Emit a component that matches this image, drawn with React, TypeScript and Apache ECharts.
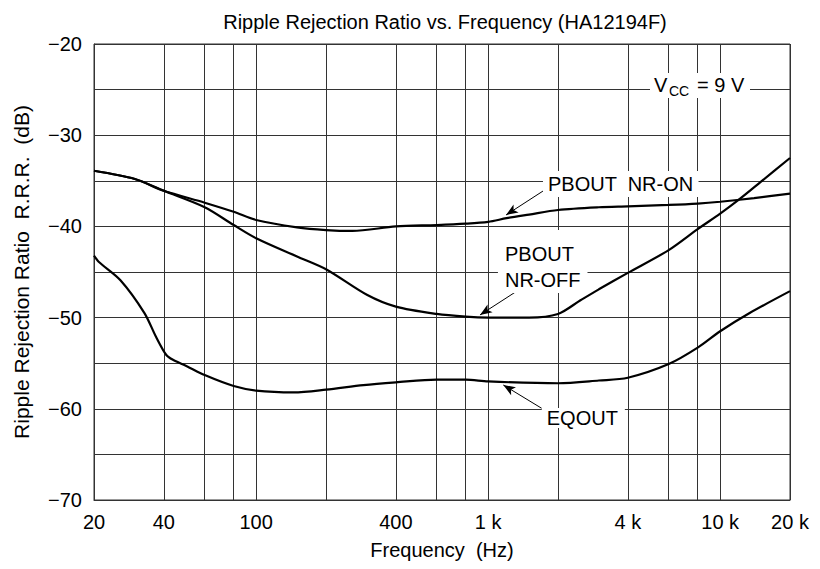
import { useEffect, useRef } from "react";
import * as echarts from "echarts";

// grid / tick positions (Hz and dB)
const gridFreqs = [20, 40, 60, 80, 100, 200, 400, 600, 800, 1000, 2000, 4000, 6000, 8000, 10000, 20000];
const labelFreqs = [20, 40, 100, 400, 1000, 4000, 10000, 20000];

// PBOUT NR-ON
const nrOnFreq = [20, 30, 40, 60, 80, 100, 150, 200, 260, 400, 600, 800, 1000, 1200, 1500, 2000, 3000, 4000, 6000, 8000, 10000, 14000, 20000];
const nrOnDb = [-33.9, -34.8, -36.1, -37.4, -38.4, -39.3, -40.1, -40.4, -40.5, -40.0, -39.85, -39.7, -39.5, -39.1, -38.7, -38.2, -37.9, -37.8, -37.65, -37.5, -37.3, -36.9, -36.4];

// PBOUT NR-OFF
const nrOffFreq = [20, 30, 40, 60, 80, 100, 150, 200, 300, 400, 600, 800, 1000, 1500, 2000, 2500, 3000, 4000, 6000, 8000, 10000, 12000, 15000, 20000];
const nrOffDb = [-33.9, -34.8, -36.1, -37.9, -39.85, -41.3, -43.3, -44.7, -47.5, -48.8, -49.6, -49.9, -50.0, -50.0, -49.6, -48.1, -46.9, -45.1, -42.6, -40.3, -38.6, -37.1, -35.1, -32.5];

// EQOUT
const eqFreq = [20, 21, 26, 33, 37, 41, 44, 50, 60, 80, 100, 145, 200, 290, 400, 600, 800, 1000, 2000, 3000, 4000, 6000, 8000, 10000, 13400, 20000];
const eqDb = [-43.2, -43.9, -45.9, -49.5, -52.1, -54.1, -54.65, -55.3, -56.3, -57.5, -58.0, -58.2, -57.9, -57.4, -57.1, -56.8, -56.8, -57.0, -57.2, -56.9, -56.6, -55.1, -53.3, -51.5, -49.5, -47.1];

// annotation anchors [Hz, dB]
const arrowNrOn = [[1729, -36.1], [1194, -38.75]];
const arrowNrOff = [[1305, -47.23], [922, -49.71]];
const arrowEq = [[1702, -59.95], [1162, -57.39]];
const boxNrOn = [1723, -35.35];
const boxNrOff = [1102, -40.39];
const boxEq = [1702, -59.91];
const boxVcc = [4984, -23.18];

const FONT = "'Liberation Sans', Arial, Helvetica, sans-serif";
const FS = 20;

function fmtFreq(v: number) {
  if (v >= 1000) return v / 1000 + " k";
  return String(v);
}

export default function App() {
  const ref = useRef<HTMLDivElement>(null);
  useEffect(() => {
    const chart = echarts.init(ref.current!, null, { renderer: "svg" });
    const pair = (f: number[], d: number[]) => f.map((x, i) => [x, d[i]]);
    const arrow = (a: number[][]) => ({
      silent: true,
      symbol: ["none", "arrow"],
      symbolSize: [7, 12],
      label: { show: false },
      emphasis: { disabled: true },
      lineStyle: { color: "#000", width: 1, type: "solid" },
      data: [[{ coord: a[0] }, { coord: a[1] }]],
    });
    const line = (name: string, f: number[], d: number[], a: number[][]) => ({
      name,
      type: "line",
      data: pair(f, d),
      smooth: 0.3,
      showSymbol: false,
      symbol: "none",
      lineStyle: { color: "#000", width: 2.2 },
      itemStyle: { color: "#000" },
      z: 5,
      markLine: arrow(a),
    });
    chart.setOption({
      animation: false,
      backgroundColor: "#fff",
      textStyle: { fontFamily: FONT },
      title: {
        text: "Ripple Rejection Ratio vs. Frequency (HA12194F)",
        left: 440,
        top: 7,
        textAlign: "center",
        textStyle: { fontFamily: FONT, fontSize: FS, fontWeight: "normal", color: "#000" },
      },
      grid: { left: 94, right: 30, top: 44, bottom: 69, show: true, borderColor: "#333", borderWidth: 1 },
      xAxis: {
        type: "log",
        logBase: 10,
        min: 20,
        max: 20000,
        name: "Frequency  (Hz)",
        nameLocation: "middle",
        nameGap: 40,
        nameTextStyle: { fontFamily: FONT, fontSize: FS, color: "#000" },
        axisLine: { show: true, lineStyle: { color: "#333", width: 1 } },
        axisTick: { show: false, customValues: gridFreqs },
        axisLabel: { customValues: labelFreqs, formatter: fmtFreq, margin: 12, fontFamily: FONT, fontSize: FS, color: "#000" },
        splitLine: { show: true, lineStyle: { color: "#333", width: 1 } },
        minorTick: { show: false },
        minorSplitLine: { show: false },
      },
      yAxis: {
        type: "value",
        min: -70,
        max: -20,
        interval: 5,
        name: "Ripple Rejection Ratio  R.R.R.  (dB)",
        nameLocation: "middle",
        nameGap: 62,
        nameTextStyle: { fontFamily: FONT, fontSize: 21, color: "#000" },
        axisLine: { show: true, lineStyle: { color: "#333", width: 1 } },
        axisTick: { show: false },
        axisLabel: {
          margin: 12,
          fontFamily: FONT,
          fontSize: FS,
          color: "#000",
          formatter: (v: number) => (v % 10 === 0 ? "\u2212" + Math.abs(v) : ""),
        },
        splitLine: { show: true, lineStyle: { color: "#333", width: 1 } },
      },
      series: [
        line("PBOUT NR-ON", nrOnFreq, nrOnDb, arrowNrOn),
        line("PBOUT NR-OFF", nrOffFreq, nrOffDb, arrowNrOff),
        line("EQOUT", eqFreq, eqDb, arrowEq),
      ],
    });

    const px = (p: number[]) => chart.convertToPixel({ gridIndex: 0 }, p) as number[];
    const a = px(boxNrOn);
    const b = px(boxNrOff);
    const c = px(boxEq);
    const v = px(boxVcc);
    const txt = { fontFamily: FONT, fontSize: FS, fill: "#000", backgroundColor: "#fff" };
    chart.setOption({
      graphic: [
        {
          type: "text", x: a[0], y: a[1], z: 20,
          style: { ...txt, text: "PBOUT  NR-ON", align: "left", verticalAlign: "middle", padding: [3, 5, 3, 5], lineHeight: 20 },
        },
        {
          type: "text", x: b[0], y: b[1], z: 20,
          style: { ...txt, text: "PBOUT\nNR-OFF", align: "left", verticalAlign: "top", padding: [11, 7, 0, 7], lineHeight: 26 },
        },
        {
          type: "text", x: c[0], y: c[1], z: 20,
          style: { ...txt, text: "EQOUT", align: "left", verticalAlign: "top", padding: [0, 7, 0, 5], lineHeight: 20 },
        },
        {
          type: "group", x: v[0], y: v[1], z: 20,
          children: [
            { type: "rect", shape: { x: 0, y: 0, width: 100, height: 25 }, style: { fill: "#fff" } },
            { type: "text", x: 4, y: 12, style: { fontFamily: FONT, fontSize: FS, fill: "#000", text: "V", verticalAlign: "middle" } },
            { type: "text", x: 19, y: 18, style: { fontFamily: FONT, fontSize: 14, fill: "#000", text: "CC", verticalAlign: "middle" } },
            { type: "text", x: 47, y: 12, style: { fontFamily: FONT, fontSize: FS, fill: "#000", text: "= 9 V", verticalAlign: "middle" } },
          ],
        },
      ],
    });
    return () => chart.dispose();
  }, []);
  return <div ref={ref} style={{ position: "fixed", left: 0, top: 0, width: 820, height: 569 }} />;
}
